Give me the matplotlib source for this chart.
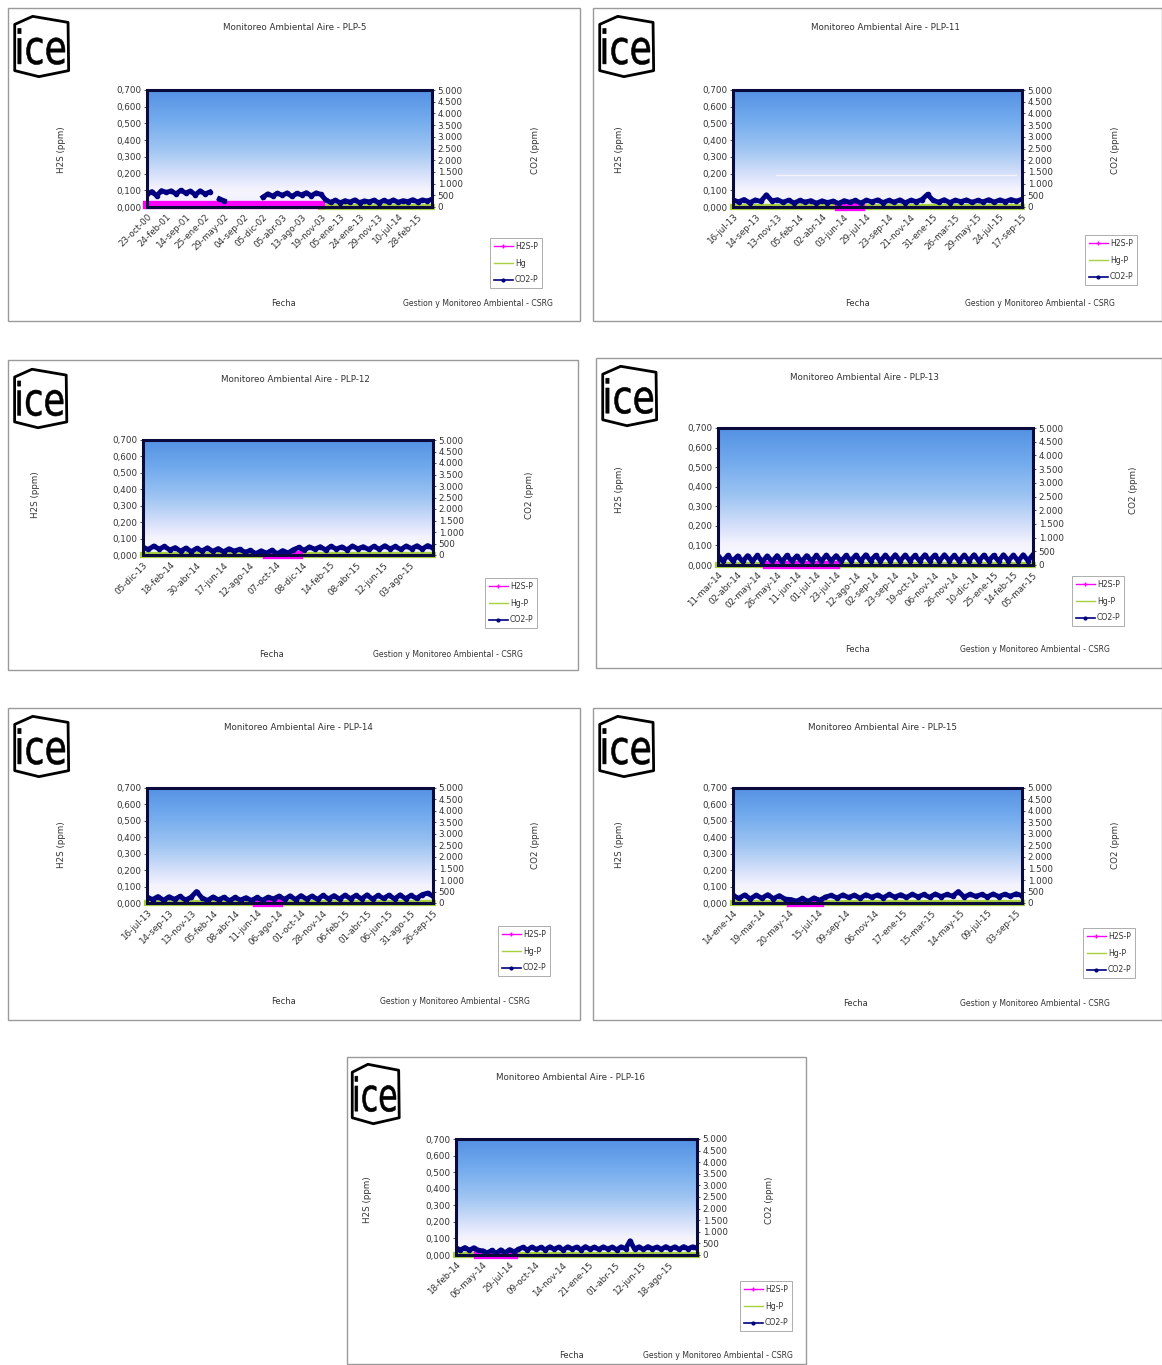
import numpy as np
import matplotlib
matplotlib.use("Agg")
import matplotlib.pyplot as plt
from matplotlib.colors import LinearSegmentedColormap
from matplotlib.patches import Rectangle, Polygon, PathPatch
from matplotlib.lines import Line2D
from matplotlib.textpath import TextPath
from matplotlib.font_manager import FontProperties
from matplotlib.transforms import Affine2D
from matplotlib.ticker import FuncFormatter

nan = np.nan
W, H = 1162, 1365

# ---------------- datos por estacion ----------------
stations = ["PLP-5", "PLP-11", "PLP-12", "PLP-13", "PLP-14", "PLP-15", "PLP-16"]

dates_plp5 = ["23-oct-00", "24-feb-01", "14-sep-01", "25-ene-02", "29-may-02", "04-sep-02",
              "05-dic-02", "05-abr-03", "13-ago-03", "19-nov-03", "05-ene-13", "24-ene-13",
              "29-nov-13", "10-jul-14", "28-feb-15"]
dates_plp11 = ["16-jul-13", "14-sep-13", "13-nov-13", "05-feb-14", "02-abr-14", "03-jun-14",
               "29-jul-14", "23-sep-14", "21-nov-14", "31-ene-15", "26-mar-15", "29-may-15",
               "24-jul-15", "17-sep-15"]
dates_plp12 = ["05-dic-13", "18-feb-14", "30-abr-14", "17-jun-14", "12-ago-14", "07-oct-14",
               "08-dic-14", "14-feb-15", "08-abr-15", "12-jun-15", "03-ago-15"]
dates_plp13 = ["11-mar-14", "02-abr-14", "02-may-14", "26-may-14", "11-jun-14", "01-jul-14",
               "23-jul-14", "12-ago-14", "02-sep-14", "23-sep-14", "19-oct-14", "06-nov-14",
               "26-nov-14", "10-dic-14", "25-ene-15", "14-feb-15", "05-mar-15"]
dates_plp14 = ["16-jul-13", "14-sep-13", "13-nov-13", "05-feb-14", "08-abr-14", "11-jun-14",
               "06-ago-14", "01-oct-14", "28-nov-14", "06-feb-15", "01-abr-15", "06-jun-15",
               "31-ago-15", "26-sep-15"]
dates_plp15 = ["14-ene-14", "19-mar-14", "20-may-14", "15-jul-14", "09-sep-14", "06-nov-14",
               "17-ene-15", "15-mar-15", "14-may-15", "09-jul-15", "03-sep-15"]
dates_plp16 = ["18-feb-14", "06-may-14", "29-jul-14", "09-oct-14", "14-nov-14", "21-ene-15",
               "01-abr-15", "12-jun-15", "18-ago-15"]

# CO2 (ppm, eje derecho)
co2_plp5 = [540, 660, 480, 700, 620, 690, 560, 710, 600, 680, 520, 690, 560, 640,
            nan, 350, 260, nan, nan, nan, nan, nan, nan, nan,
            420, 560, 470, 590, 500, 600, 450, 580, 520, 610, 480, 600, 540,
            300, 200, 290, 180, 270, 210, 300, 190, 260, 220, 290, 180, 280, 210, 300,
            200, 270, 230, 310, 220, 300, 260, 330]
co2_plp11 = [300, 220, 320, 180, 300, 240, 520, 260, 310, 200,
             290, 170, 280, 210, 270, 160, 260, 190, 250, 150,
             270, 200, 280, 170, 290, 220, 300, 190, 280, 210,
             300, 180, 290, 230, 320, 540, 280, 210, 310, 190,
             290, 230, 300, 200, 280, 220, 310, 210, 300, 230,
             320, 250, 330]
co2_plp12 = [330, 240, 390, 260, 370, 220,
             320, 170, 300, 150, 290, 180, 310, 160, 280, 140, 270, 170, 250,
             120, 200, 60, 180, 80, 210, 50, 190, 90,
             230, 330, 210, 350, 250, 360, 220, 380, 260, 350,
             230, 390, 270, 360, 240, 380, 250, 400, 270, 370,
             240, 390, 280, 400, 260, 410, 300]
co2_plp13 = [340, 140, 350, 150, 330, 130, 340, 140, 350, 120,
             330, 130, 340, 120, 350, 140, 330, 130, 340, 150,
             350, 140, 360, 150, 340, 140, 350, 160, 360, 150,
             370, 160, 350, 150, 360, 160, 370, 150, 360, 160,
             350, 150, 370, 160, 360, 150, 370, 160, 350, 150,
             360, 160, 370, 150, 360, 160, 350, 150, 370, 160,
             360, 150, 370, 160, 380]
co2_plp14 = [260, 150, 280, 120, 270, 160, 290, 130, 250, 500,
             220, 110, 260, 140, 250, 100, 240, 130, 230, 110,
             240, 120, 250, 180, 300, 160, 310, 150, 320, 170,
             300, 160, 330, 180, 320, 170, 340, 190, 330, 180,
             350, 170, 330, 200, 340, 180, 350, 190, 330, 200,
             360, 430, 300]
co2_plp15 = [330, 200, 350, 180, 340, 210, 360, 190, 320, 170,
             150, 80, 200, 70, 220, 120,
             260, 330, 220, 350, 240, 340, 210, 360, 250, 350,
             230, 370, 260, 360, 240, 380, 270, 370, 250, 390,
             280, 370, 300, 500, 260, 380, 290, 370, 270, 390,
             280, 380, 300, 400, 320]
co2_plp16 = [300, 220, 320, 210, 310, 200,
             180, 90, 200, 70, 220, 100, 230, 140,
             250, 330, 220, 340, 240, 330, 230, 350, 250, 340,
             220, 350, 260, 340, 230, 360, 250, 340, 240, 350,
             260, 340, 230, 350, 270, 610, 260, 350, 240, 360,
             270, 340, 250, 360, 260, 350, 240, 360, 270, 350, 300]

# H2S (ppm, eje izquierdo); solo hay registro en algunos tramos
h2s_plp5 = [0.01] * 37 + [nan] * 23
h2s_plp11 = [nan] * 19 + [0.0] * 5 + [nan] * 29
h2s_plp12 = [nan] * 23 + [0.0] * 7 + [nan] * 25
h2s_plp13 = [nan] * 10 + [0.0] * 15 + [nan] * 40
h2s_plp14 = [nan] * 20 + [0.0] * 5 + [nan] * 28
h2s_plp15 = [nan] * 10 + [0.0] * 6 + [nan] * 35
h2s_plp16 = [nan] * 5 + [0.0] * 9 + [nan] * 41

# Hg (eje izquierdo)
hg_plp5 = [nan] * 36 + [0.0] * 24
hg_plp11 = [0.0] * 53
hg_plp12 = [0.0] * 55
hg_plp13 = [0.0] * 65
hg_plp14 = [0.0] * 53
hg_plp15 = [0.0] * 51
hg_plp16 = [0.0] * 55

# lineas de referencia: (valor, desde, hasta) en fraccion del ancho
limits_plp5 = [(0.1, 0.0, 1.0)]
limits_plp11 = [(0.1, 0.0, 1.0), (0.19, 0.15, 0.98)]
limits_other = [(0.1, 0.0, 1.0)]

co2_series = [co2_plp5, co2_plp11, co2_plp12, co2_plp13, co2_plp14, co2_plp15, co2_plp16]
h2s_series = [h2s_plp5, h2s_plp11, h2s_plp12, h2s_plp13, h2s_plp14, h2s_plp15, h2s_plp16]
hg_series = [hg_plp5, hg_plp11, hg_plp12, hg_plp13, hg_plp14, hg_plp15, hg_plp16]
date_labels = [dates_plp5, dates_plp11, dates_plp12, dates_plp13, dates_plp14, dates_plp15, dates_plp16]
limits = [limits_plp5, limits_plp11] + [limits_other] * 5
legend_names = [["H2S-P", "Hg", "CO2-P"]] + [["H2S-P", "Hg-P", "CO2-P"]] * 6

# ---------------- posicion de cada grafico (pixeles) ----------------
layouts = [
    dict(frame=(8, 8, 580, 321), plot=(147, 90, 432, 207), logo=(11, 13, 73, 80), title=(295, 27),
         ylab_l=(62, 150), ylab_r=(535, 150), legend=(490, 238), fecha=(283, 304), credit=(478, 304), span=0.95),
    dict(frame=(593, 8, 1162, 321), plot=(733, 90, 1022, 207), logo=(596, 13, 658, 80), title=(885, 27),
         ylab_l=(620, 150), ylab_r=(1115, 150), legend=(1085, 235), fecha=(858, 304), credit=(1040, 304), span=1.0),
    dict(frame=(8, 360, 578, 670), plot=(143, 440, 433, 555), logo=(11, 366, 71, 431), title=(295, 380),
         ylab_l=(36, 495), ylab_r=(530, 495), legend=(485, 578), fecha=(272, 654), credit=(448, 654), span=0.92),
    dict(frame=(596, 358, 1162, 668), plot=(718, 428, 1033, 565), logo=(599, 363, 661, 429), title=(865, 377),
         ylab_l=(620, 490), ylab_r=(1133, 490), legend=(1072, 576), fecha=(857, 650), credit=(1035, 650), span=1.0),
    dict(frame=(8, 708, 580, 1020), plot=(147, 788, 433, 903), logo=(11, 713, 73, 780), title=(298, 727),
         ylab_l=(62, 845), ylab_r=(535, 845), legend=(498, 926), fecha=(283, 1002), credit=(455, 1002), span=1.0),
    dict(frame=(593, 708, 1162, 1020), plot=(733, 788, 1022, 903), logo=(596, 713, 658, 780), title=(882, 728),
         ylab_l=(620, 845), ylab_r=(1115, 845), legend=(1083, 928), fecha=(855, 1004), credit=(1035, 1004), span=0.98),
    dict(frame=(347, 1057, 806, 1364), plot=(456, 1139, 697, 1255), logo=(349, 1061, 403, 1127), title=(570, 1078),
         ylab_l=(367, 1200), ylab_r=(770, 1200), legend=(740, 1281), fecha=(572, 1355), credit=(718, 1355), span=0.88),
]

TXT = "#333333"
NAVY = "#000080"
MAGENTA = "#ff00ff"
GREEN = "#a8d040"

sky = LinearSegmentedColormap.from_list("sky", [
    (0.0, (0.93, 0.95, 0.99)),
    (0.14, (0.97, 0.96, 1.0)),
    (0.28, (0.84, 0.88, 0.98)),
    (0.5, (0.62, 0.77, 0.95)),
    (0.75, (0.45, 0.67, 0.93)),
    (1.0, (0.33, 0.57, 0.89)),
])


def fig_rect(x0, y0, x1, y1):
    return [x0 / W, 1 - y1 / H, (x1 - x0) / W, (y1 - y0) / H]


def fx(x):
    return x / W


def fy(y):
    return 1 - y / H


def draw_logo(fig, box):
    lax = fig.add_axes(fig_rect(*box))
    lax.set_xlim(0, 1)
    lax.set_ylim(0, 1)
    lax.axis("off")
    outline = Polygon([(0.06, 0.83), (0.35, 0.95), (0.92, 0.86), (0.93, 0.14),
                       (0.45, 0.05), (0.06, 0.14)], closed=True, fill=False,
                      edgecolor="black", lw=2.0, joinstyle="round")
    lax.add_patch(outline)
    tp = TextPath((0, 0), "ice", size=1, prop=FontProperties(family="DejaVu Sans"))
    ext = tp.get_extents()
    sx = 0.76 / ext.width
    sy = 0.54 / ext.height
    tr = Affine2D().translate(-ext.x0, -ext.y0).scale(sx, sy).translate(0.11, 0.23)
    lax.add_patch(PathPatch(tr.transform_path(tp), facecolor="black", edgecolor="black", lw=0.4))


fig = plt.figure(figsize=(W / 100, H / 100), dpi=100)
fig.patch.set_facecolor("white")

for i, lay in enumerate(layouts):
    x0, y0, x1, y1 = lay["frame"]
    fig.add_artist(Rectangle((fx(x0), fy(y1)), (x1 - x0) / W, (y1 - y0) / H,
                             transform=fig.transFigure, facecolor="white",
                             edgecolor="#9a9a9a", lw=1.0, zorder=0))

    co2 = co2_series[i]
    n = len(co2)
    x = np.arange(n)

    ax = fig.add_axes(fig_rect(*lay["plot"]))
    ax.imshow(np.linspace(0, 1, 256).reshape(-1, 1), cmap=sky, origin="lower",
              extent=[0, 1, 0, 1], transform=ax.transAxes, aspect="auto", zorder=0)
    for val, a, b in limits[i]:
        ax.axhline(val, a, b, color="#f4f4f8", lw=0.9, zorder=1)
    ax.plot(x, hg_series[i], color=GREEN, lw=4.5, clip_on=False, zorder=2)
    ax.plot(x, h2s_series[i], color=MAGENTA, lw=6.0, clip_on=False, zorder=3)
    ax.set_xlim(0, n - 1)
    ax.set_ylim(0, 0.7)
    ax.set_yticks(np.arange(0, 0.71, 0.1))
    ax.yaxis.set_major_formatter(FuncFormatter(lambda v, p: f"{v:.3f}".replace(".", ",")))
    ticks = np.linspace(0, lay["span"] * (n - 1), len(date_labels[i]))
    ax.set_xticks(ticks)
    ax.set_xticklabels(date_labels[i], rotation=45, ha="right", rotation_mode="anchor")
    ax.tick_params(axis="x", length=0, pad=4, labelsize=6.3, colors=TXT)
    ax.tick_params(axis="y", length=2, width=0.6, pad=2, labelsize=6.3, colors=TXT)
    for s in ax.spines.values():
        s.set_visible(False)

    ax2 = ax.twinx()
    ax2.plot(x, co2, color=NAVY, lw=3.5, marker="o", ms=3.0, zorder=4)
    ax2.set_xlim(0, n - 1)
    ax2.set_ylim(0, 5000)
    ax2.set_yticks(np.arange(0, 5001, 500))
    ax2.yaxis.set_major_formatter(FuncFormatter(lambda v, p: f"{int(v):,}".replace(",", ".")))
    ax2.tick_params(axis="y", length=2, width=0.6, pad=2, labelsize=6.3, colors=TXT)
    for s in ax2.spines.values():
        s.set_visible(False)
    ax2.add_patch(Rectangle((0, 0), 1, 1, transform=ax2.transAxes, fill=False,
                            edgecolor="#0a0a3c", lw=2.2, zorder=6, clip_on=False))

    fig.text(fx(lay["title"][0]), fy(lay["title"][1]), f"Monitoreo Ambiental Aire - {stations[i]}",
             ha="center", va="center", fontsize=6.3, color=TXT)
    fig.text(fx(lay["ylab_l"][0]), fy(lay["ylab_l"][1]), "H2S (ppm)", rotation=90,
             ha="center", va="center", fontsize=6.3, color=TXT)
    fig.text(fx(lay["ylab_r"][0]), fy(lay["ylab_r"][1]), "CO2 (ppm)", rotation=90,
             ha="center", va="center", fontsize=6.3, color=TXT)
    fig.text(fx(lay["fecha"][0]), fy(lay["fecha"][1]), "Fecha",
             ha="center", va="center", fontsize=6.0, color=TXT)
    fig.text(fx(lay["credit"][0]), fy(lay["credit"][1]), "Gestion y Monitoreo Ambiental - CSRG",
             ha="center", va="center", fontsize=5.6, color=TXT)

    handles = [
        Line2D([], [], color=MAGENTA, lw=1.0, marker="+", ms=3),
        Line2D([], [], color=GREEN, lw=1.0),
        Line2D([], [], color=NAVY, lw=1.2, marker="o", ms=2),
    ]
    leg = ax2.legend(handles, legend_names[i], loc="upper left",
                     bbox_to_anchor=(fx(lay["legend"][0]), fy(lay["legend"][1])),
                     bbox_transform=fig.transFigure, fontsize=5.6, frameon=True,
                     fancybox=False, handlelength=2.4, borderpad=0.5, labelspacing=1.0,
                     handletextpad=0.3, borderaxespad=0)
    leg.get_frame().set_edgecolor("#888888")
    leg.get_frame().set_linewidth(0.6)
    for t in leg.get_texts():
        t.set_color(TXT)

    draw_logo(fig, lay["logo"])

fig.savefig("out.png", dpi=100, facecolor="white")
